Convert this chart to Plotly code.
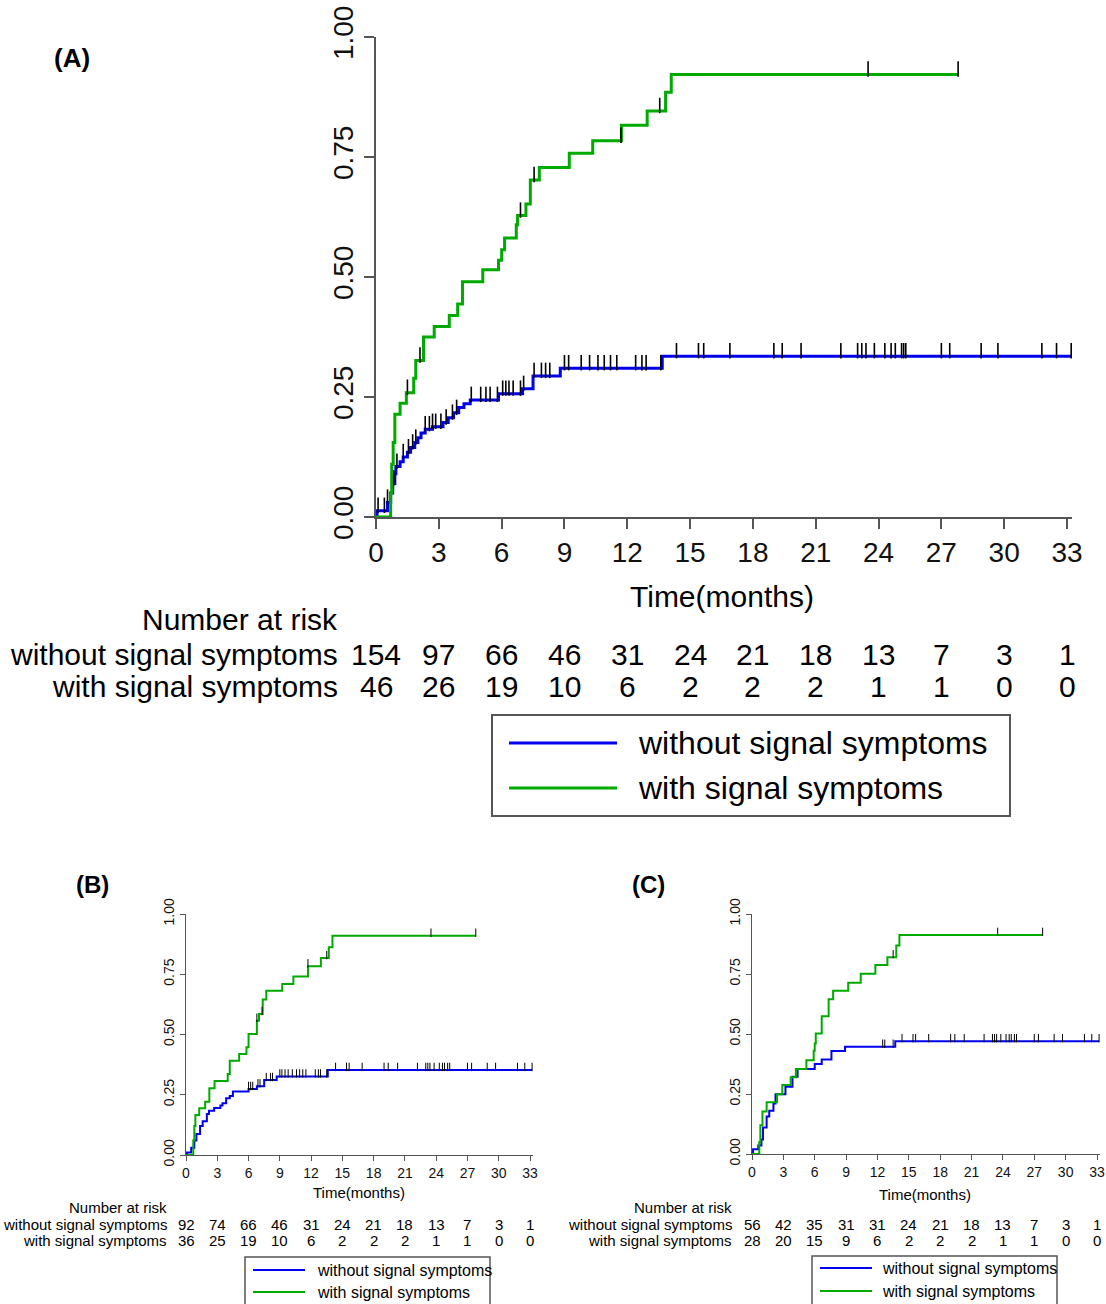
import numpy as np
import plotly.graph_objects as go

W, H = 1106, 1304

# ---------------- data ----------------
tick_months = [0, 3, 6, 9, 12, 15, 18, 21, 24, 27, 30, 33]
y_ticks = [0, 0.25, 0.5, 0.75, 1.0]
y_ticktext = ["0.00", "0.25", "0.50", "0.75", "1.00"]
group_names = ["without signal symptoms", "with signal symptoms"]

# Panel A
A_green_t = [0.7, 0.75, 0.82, 0.9, 1.15, 1.45, 1.8, 1.9, 2.27, 2.78, 3.5, 3.9, 4.13, 5.1, 5.85, 6.0, 6.14,
             6.7, 6.76, 7.16, 7.37, 7.8, 9.23, 10.35, 11.72, 12.95, 13.83, 14.1]
A_green_y = [0.05, 0.11, 0.155, 0.214, 0.237, 0.259, 0.289, 0.326, 0.375, 0.397, 0.42, 0.444, 0.49, 0.515,
             0.535, 0.557, 0.581, 0.609, 0.628, 0.652, 0.702, 0.728, 0.758, 0.784, 0.816, 0.846, 0.885, 0.922]
A_green_end = 27.8
A_blue_t = [0.05, 0.55, 0.7, 0.8, 0.9, 0.95, 1.15, 1.3, 1.5, 1.65, 1.85, 2.0, 2.15, 2.35, 2.7, 3.2, 3.45,
            3.7, 3.95, 4.2, 4.5, 5.85, 7.0, 7.5, 8.8, 13.67]
A_blue_y = [0.013, 0.03, 0.05, 0.07, 0.09, 0.105, 0.115, 0.125, 0.135, 0.145, 0.155, 0.165, 0.175, 0.183,
            0.188, 0.197, 0.207, 0.217, 0.228, 0.236, 0.244, 0.257, 0.267, 0.294, 0.31, 0.335]
A_blue_end = 33.2
A_blue_cens = [0.1, 0.4, 0.55, 0.85, 1.0, 1.3, 1.55, 1.75, 1.9, 2.35, 2.55, 2.7, 2.85, 3.1, 3.35, 3.65, 3.85,
               4.55, 5.0, 5.25, 5.45, 5.8, 6.05, 6.2, 6.35, 6.55, 6.9, 7.05, 7.55, 7.9, 8.1, 8.3, 9.0, 9.2,
               9.8, 10.2, 10.6, 10.9, 11.2, 11.5, 12.4, 12.7, 12.9, 13.6, 14.35, 15.4, 15.65, 16.9, 19.0,
               19.4, 20.3, 22.2, 23.0, 23.2, 23.4, 23.8, 24.3, 24.6, 24.8, 25.1, 25.2, 25.3, 27.0, 27.4,
               28.9, 29.7, 31.8, 32.5, 33.2]
A_green_cens = [1.5, 2.1, 6.9, 7.55, 11.7, 13.55, 23.5, 27.8]
A_risk_without = [154, 97, 66, 46, 31, 24, 21, 18, 13, 7, 3, 1]
A_risk_with = [46, 26, 19, 10, 6, 2, 2, 2, 1, 1, 0, 0]

# Panel B
B_green_t = [0.7, 0.8, 0.9, 1.27, 1.84, 2.24, 2.74, 4.0, 4.2, 5.1, 5.8, 6.0, 6.8, 7.0, 7.36, 7.7, 9.23,
             10.3, 11.7, 12.94, 13.7, 14.05]
B_green_y = [0.06, 0.12, 0.166, 0.194, 0.221, 0.277, 0.307, 0.336, 0.391, 0.419, 0.447, 0.502, 0.557,
             0.585, 0.645, 0.682, 0.71, 0.741, 0.783, 0.817, 0.862, 0.91]
B_green_end = 27.8
B_blue_t = [0.1, 0.5, 0.8, 1.0, 1.35, 1.6, 2.0, 2.2, 2.7, 3.3, 3.5, 3.85, 4.2, 4.5, 6.0, 6.8, 7.5, 8.7, 13.6]
B_blue_y = [0.01, 0.03, 0.06, 0.087, 0.12, 0.14, 0.17, 0.184, 0.195, 0.205, 0.215, 0.235, 0.245, 0.263,
            0.274, 0.285, 0.311, 0.326, 0.353]
B_blue_end = 33.2
B_blue_cens = [6.0, 6.2, 6.4, 6.9, 7.1, 7.7, 8.1, 8.3, 9.0, 9.2, 9.5, 9.8, 10.2, 10.6, 10.9, 11.2, 11.5,
               12.4, 12.7, 12.9, 13.5, 14.35, 15.4, 15.65, 16.9, 19.0, 19.4, 20.3, 22.2, 23.0, 23.2, 23.4,
               23.8, 24.3, 24.6, 24.8, 25.1, 25.3, 27.0, 27.4, 28.9, 29.7, 31.8, 32.5, 33.2]
B_green_cens = [6.8, 7.3, 11.7, 13.5, 23.5, 27.8]
B_risk_without = [92, 74, 66, 46, 31, 24, 21, 18, 13, 7, 3, 1]
B_risk_with = [36, 25, 19, 10, 6, 2, 2, 2, 1, 1, 0, 0]

# Panel C
C_green_t = [0.7, 0.8, 1.0, 1.4, 2.4, 2.9, 3.7, 4.2, 5.2, 5.9, 6.0, 6.1, 6.67, 7.33, 7.76, 9.2, 10.4, 11.8,
             12.95, 13.8, 14.1]
C_green_y = [0.05, 0.12, 0.177, 0.216, 0.249, 0.288, 0.32, 0.354, 0.391, 0.43, 0.46, 0.502, 0.574, 0.645,
             0.68, 0.714, 0.751, 0.788, 0.82, 0.869, 0.913]
C_green_end = 27.8
C_blue_t = [0.1, 0.6, 0.9, 1.05, 1.4, 1.65, 2.05, 2.25, 3.2, 3.87, 4.36, 6.0, 6.67, 7.6, 8.9, 13.7]
C_blue_y = [0.02, 0.035, 0.06, 0.11, 0.156, 0.18, 0.21, 0.249, 0.28, 0.322, 0.354, 0.375, 0.394, 0.429,
            0.447, 0.47]
C_blue_end = 33.2
C_blue_cens = [12.5, 12.7, 13.5, 14.35, 15.4, 15.65, 16.9, 19.0, 19.4, 20.3, 22.2, 23.0, 23.2, 23.4, 23.8,
               24.3, 24.6, 24.8, 25.1, 25.3, 27.0, 27.4, 28.9, 29.7, 31.8, 32.5, 33.2]
C_green_cens = [13.5, 23.5, 27.8]
C_risk_without = [56, 42, 35, 31, 31, 24, 21, 18, 13, 7, 3, 1]
C_risk_with = [28, 20, 15, 9, 6, 2, 2, 2, 1, 1, 0, 0]

BLUE = "#0000EE"
GREEN = "#00AA00"
AXC = "#555555"
FONT = "Liberation Sans, Arial, sans-serif"


def px(x):
    return x / W


def py(y):
    return 1 - y / H


def step_xy(t, y, end):
    xs = [0] + list(t) + [end]
    ys = [0] + list(y) + [y[-1]]
    return xs, ys


def value_at(t, y, times):
    t = np.asarray(t)
    y = np.asarray(y)
    idx = np.searchsorted(t, np.asarray(times), side="right") - 1
    return np.where(idx >= 0, y[np.clip(idx, 0, None)], 0.0)


fig = go.Figure()

panels = [
    dict(xa="x", ya="y", gt=A_green_t, gy=A_green_y, ge=A_green_end, bt=A_blue_t, by=A_blue_y,
         be=A_blue_end, bc=A_blue_cens, gc=A_green_cens, rw=A_risk_without, rs=A_risk_with,
         x0=376, x33=1067, y1=37, y0=517, lw=3, msize=11, mw=1.6, fs=28, tfs=30, ticklen=10,
         axw=1.5, label="(A)", lab_xy=(72, 58), title_xy=(722, 596), nar_y=620, row_y=(654, 686),
         lab_right=340, leg=(492, 715, 1010, 816), leg_line=(509, 617), leg_y=(743, 788), leg_tx=636,
         leg_fs=32, pfs=26),
    dict(xa="x2", ya="y2", gt=B_green_t, gy=B_green_y, ge=B_green_end, bt=B_blue_t, by=B_blue_y,
         be=B_blue_end, bc=B_blue_cens, gc=B_green_cens, rw=B_risk_without, rs=B_risk_with,
         x0=186, x33=530, y1=914, y0=1155, lw=2, msize=6, mw=1, fs=14, tfs=15, ticklen=5,
         axw=1, label="(B)", lab_xy=(92, 884), title_xy=(359, 1192), nar_y=1207, row_y=(1224, 1240),
         lab_right=169, leg=(245, 1257, 490, 1312), leg_line=(253, 305), leg_y=(1270, 1292), leg_tx=315,
         leg_fs=16, pfs=24),
    dict(xa="x3", ya="y3", gt=C_green_t, gy=C_green_y, ge=C_green_end, bt=C_blue_t, by=C_blue_y,
         be=C_blue_end, bc=C_blue_cens, gc=C_green_cens, rw=C_risk_without, rs=C_risk_with,
         x0=752, x33=1097, y1=914, y0=1154, lw=2, msize=6, mw=1, fs=14, tfs=15, ticklen=5,
         axw=1, label="(C)", lab_xy=(648, 884), title_xy=(925, 1194), nar_y=1207, row_y=(1224, 1240),
         lab_right=734, leg=(812, 1256, 1057, 1312), leg_line=(820, 872), leg_y=(1268, 1291), leg_tx=880,
         leg_fs=16, pfs=24),
]

annotations = []
shapes = []
XMAX = 33.25

for i, p in enumerate(panels):
    sfx = "" if i == 0 else str(i + 1)
    ppm = (p["x33"] - p["x0"]) / 33.0
    ppu = p["y0"] - p["y1"]
    xdom = [px(p["x0"]), min(1.0, px(p["x0"] + XMAX * ppm))]
    ydom = [py(p["y0"]), py(p["y1"])]

    bx, byy = step_xy(p["bt"], p["by"], p["be"])
    gx, gyy = step_xy(p["gt"], p["gy"], p["ge"])
    fig.add_trace(go.Scatter(x=bx, y=byy, mode="lines", line=dict(color=BLUE, width=p["lw"], shape="hv"),
                             xaxis=p["xa"], yaxis=p["ya"], name=group_names[0], showlegend=False))
    fig.add_trace(go.Scatter(x=gx, y=gyy, mode="lines", line=dict(color=GREEN, width=p["lw"], shape="hv"),
                             xaxis=p["xa"], yaxis=p["ya"], name=group_names[1], showlegend=False))
    off = (p["msize"] / 2.0) / ppu
    bcy = value_at(p["bt"], p["by"], p["bc"]) + off
    gcy = value_at(p["gt"], p["gy"], p["gc"]) + off
    for cx, cy in ((p["bc"], bcy), (p["gc"], gcy)):
        fig.add_trace(go.Scatter(x=cx, y=cy, mode="markers", cliponaxis=False,
                                 marker=dict(symbol="line-ns", size=p["msize"],
                                             line=dict(color="black", width=p["mw"])),
                                 xaxis=p["xa"], yaxis=p["ya"], showlegend=False, hoverinfo="skip"))

    axis_common = dict(showgrid=False, zeroline=False, showline=True, linecolor=AXC, linewidth=p["axw"],
                       ticks="outside", ticklen=p["ticklen"], tickwidth=p["axw"], tickcolor=AXC,
                       automargin=False,
                       tickfont=dict(family=FONT, size=p["fs"], color="#111"))
    fig.update_layout(**{
        "xaxis" + sfx: dict(domain=xdom, range=[0, XMAX], tickvals=tick_months, anchor="y" + sfx,
                            **axis_common),
        "yaxis" + sfx: dict(domain=ydom, range=[0, 1], tickvals=y_ticks, ticktext=y_ticktext,
                            tickangle=-90, anchor="x" + sfx, **axis_common),
    })

    annotations.append(dict(text="<b>%s</b>" % p["label"], x=px(p["lab_xy"][0]), y=py(p["lab_xy"][1]),
                            xref="paper", yref="paper", showarrow=False, xanchor="center", yanchor="middle",
                            font=dict(family=FONT, size=p["pfs"], color="black")))
    annotations.append(dict(text="Time(months)", x=px(p["title_xy"][0]), y=py(p["title_xy"][1]),
                            xref="paper", yref="paper", showarrow=False, xanchor="center", yanchor="middle",
                            font=dict(family=FONT, size=p["tfs"], color="black")))
    annotations.append(dict(text="Number at risk", x=px(p["lab_right"]), y=py(p["nar_y"]),
                            xref="paper", yref="paper", showarrow=False, xanchor="right", yanchor="middle",
                            font=dict(family=FONT, size=p["tfs"], color="black")))
    for gname, row, ry in ((group_names[0], p["rw"], p["row_y"][0]), (group_names[1], p["rs"], p["row_y"][1])):
        annotations.append(dict(text=gname, x=px(p["lab_right"]), y=py(ry), xref="paper", yref="paper",
                                showarrow=False, xanchor="right", yanchor="middle",
                                font=dict(family=FONT, size=p["tfs"], color="black")))
        for tm, n in zip(tick_months, row):
            annotations.append(dict(text=str(n), x=tm, y=py(ry), xref=p["xa"], yref="paper",
                                    showarrow=False, xanchor="center", yanchor="middle",
                                    font=dict(family=FONT, size=p["tfs"], color="black")))
    lx0, ly0, lx1, ly1 = p["leg"]
    shapes.append(dict(type="rect", xref="paper", yref="paper", x0=px(lx0), x1=px(lx1), y0=py(ly1), y1=py(ly0),
                       line=dict(color=AXC, width=2 if i == 0 else 1.5), fillcolor="rgba(0,0,0,0)"))
    for col, gname, ly in ((BLUE, group_names[0], p["leg_y"][0]), (GREEN, group_names[1], p["leg_y"][1])):
        shapes.append(dict(type="line", xref="paper", yref="paper", x0=px(p["leg_line"][0]),
                           x1=px(p["leg_line"][1]), y0=py(ly), y1=py(ly), line=dict(color=col, width=p["lw"])))
        annotations.append(dict(text=gname, x=px(p["leg_tx"]), y=py(ly), xref="paper", yref="paper",
                                showarrow=False, xanchor="left", yanchor="middle",
                                font=dict(family=FONT, size=p["leg_fs"], color="black")))

fig.update_layout(width=W, height=H, margin=dict(l=0, r=0, t=0, b=0, pad=0, autoexpand=False),
                  paper_bgcolor="white", plot_bgcolor="white", showlegend=False,
                  annotations=annotations, shapes=shapes, font=dict(family=FONT))

fig.write_html("out.html", config={"displayModeBar": False},
               post_script="document.body.style.margin='0px';document.body.style.overflow='hidden';")
